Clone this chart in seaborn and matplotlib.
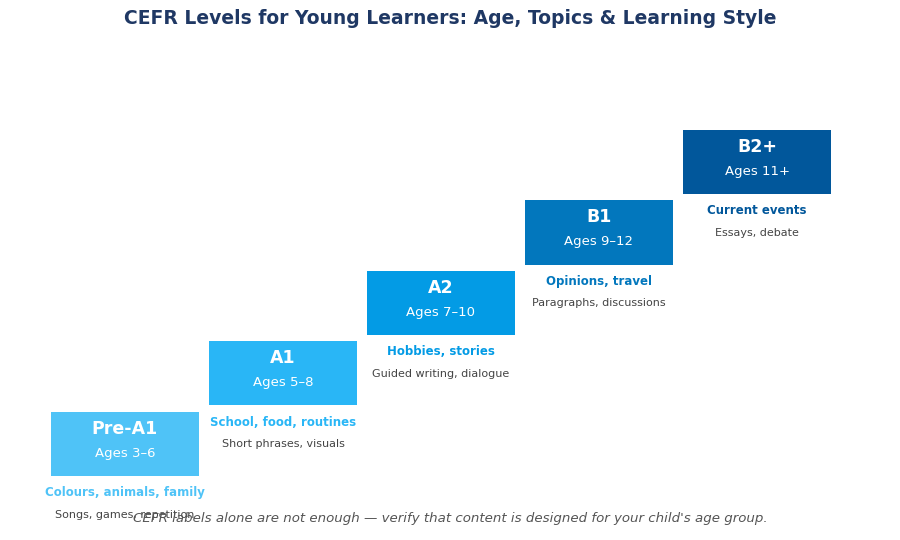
import numpy as np
import matplotlib.pyplot as plt
import seaborn as sns

levels = ['Pre-A1', 'A1', 'A2', 'B1', 'B2+']
ages = ['Ages 3–6', 'Ages 5–8', 'Ages 7–10', 'Ages 9–12', 'Ages 11+']
topics = ['Colours, animals, family', 'School, food, routines', 'Hobbies, stories',
          'Opinions, travel', 'Current events']
skills = ['Songs, games, repetition', 'Short phrases, visuals', 'Guided writing, dialogue',
          'Paragraphs, discussions', 'Essays, debate']
colors = ['#4FC3F7', '#29B6F6', '#039BE5', '#0277BD', '#01579B']

sns.set_theme(style='white')

fig = plt.figure(figsize=(9, 5.4), dpi=100)
ax = fig.add_axes([0, 0, 1, 1])
x = np.arange(len(levels))

# Escalones
ax.bar(x, 0.908, bottom=x, width=0.937, color=colors, edgecolor='none')

for i in x:
    ax.text(i, i + 0.667, levels[i], ha='center', va='center', color='white',
            fontsize=12.5, fontweight='bold')
    ax.text(i, i + 0.326, ages[i], ha='center', va='center', color='white', fontsize=9.5)
    ax.text(i, i - 0.241, topics[i], ha='center', va='center', color=colors[i],
            fontsize=8.5, fontweight='bold')
    ax.text(i, i - 0.553, skills[i], ha='center', va='center', color='#444444', fontsize=8)

ax.set_xlim(-0.791, 4.905)
ax.set_ylim(-0.908, 6.752)
ax.axis('off')

fig.text(0.5, 0.966, 'CEFR Levels for Young Learners: Age, Topics & Learning Style',
         ha='center', va='center', fontsize=13.5, fontweight='bold', color='#1F3864')
fig.text(0.5, 0.039, "CEFR labels alone are not enough — verify that content is designed for your child's age group.",
         ha='center', va='center', fontsize=9.6, style='italic', color='#555555')

fig.savefig('out.png', dpi=100)
